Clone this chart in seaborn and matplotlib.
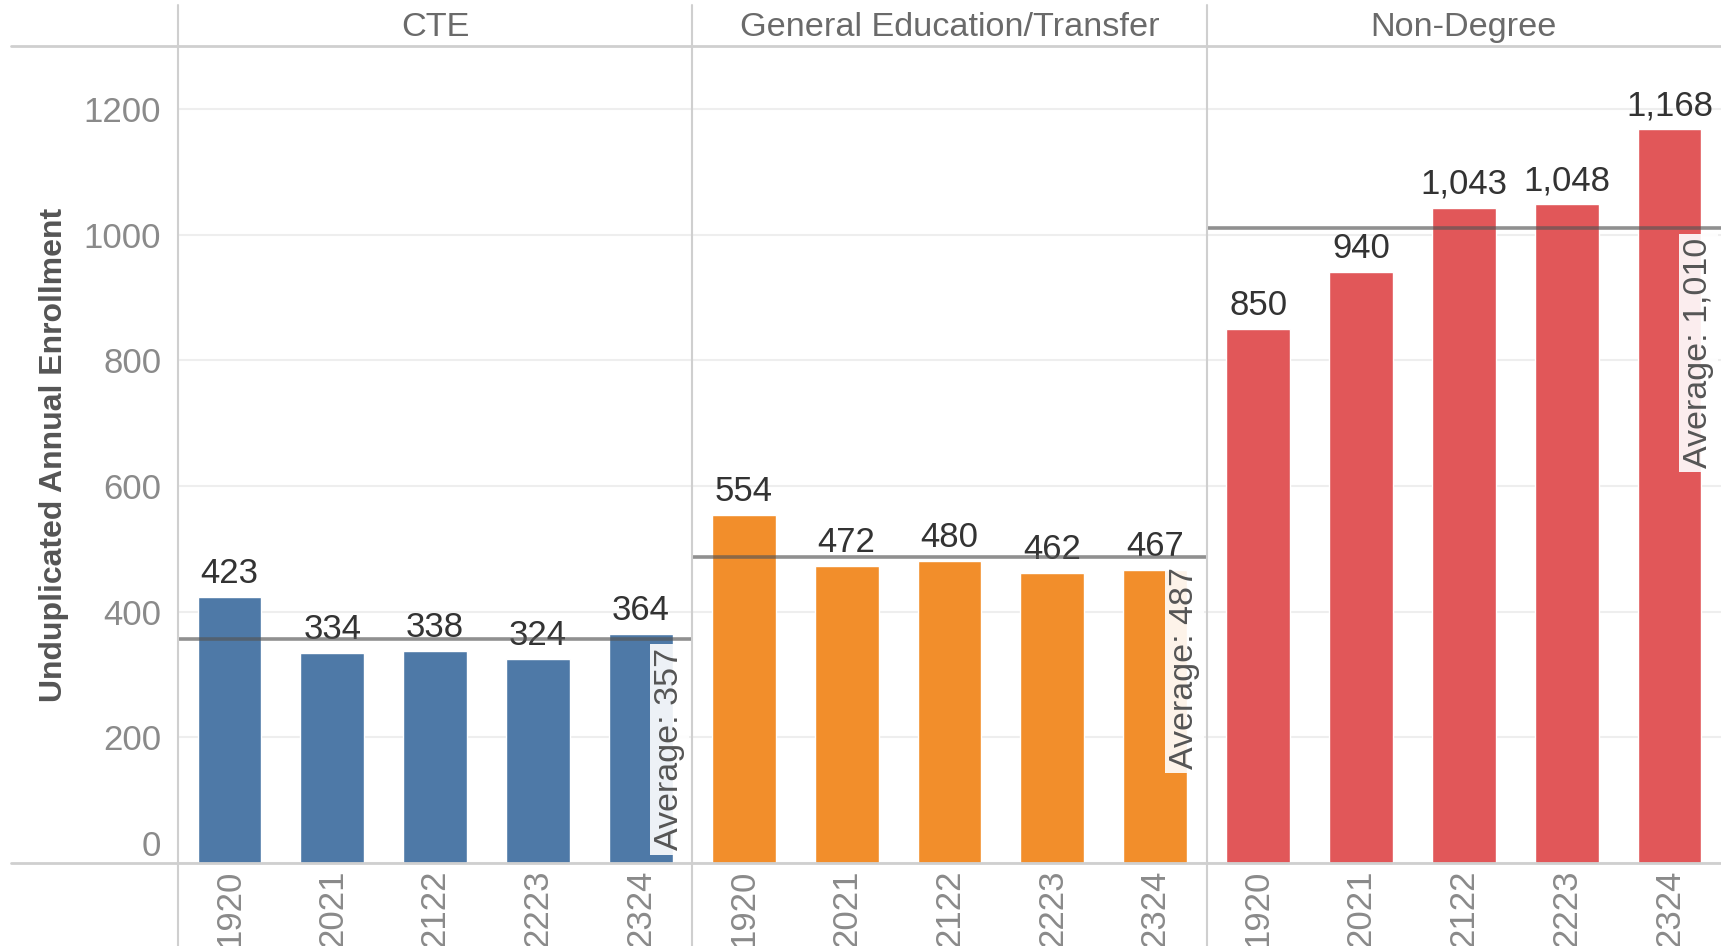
import numpy as np
import pandas as pd
import matplotlib
matplotlib.use("Agg")
import matplotlib.pyplot as plt
from matplotlib.lines import Line2D
from matplotlib.ticker import FixedLocator
import seaborn as sns

# ---------------- data ----------------
programs = ["CTE", "General Education/Transfer", "Non-Degree"]
years = ["1920", "2021", "2122", "2223", "2324"]
cte = [423, 334, 338, 324, 364]
gen_ed = [554, 472, 480, 462, 467]
non_degree = [850, 940, 1043, 1048, 1168]
colors = ["#4E79A7", "#F28E2B", "#E15759"]
y_ticks = [0, 200, 400, 600, 800, 1000, 1200]
y_label = "Unduplicated Annual Enrollment"

series = [cte, gen_ed, non_degree]
df = pd.DataFrame({
    "program": np.repeat(programs, len(years)),
    "year": years * len(programs),
    "enroll": np.concatenate(series),
})

# ---------------- style ----------------
sns.set_style("white")
plt.rcParams["font.family"] = ["Liberation Sans", "DejaVu Sans"]

W, H = 1721, 946
fig = plt.figure(figsize=(W / 100, H / 100), dpi=100)

left_px, top_px, bottom_px = 178, 46, 863
panel_w = (W - left_px) / 3
GRID = "#eeeeee"
SEP = "#cfcfcf"
TICKC = "#8a8a8a"

axes = []
for i, prog in enumerate(programs):
    ax = fig.add_axes([
        (left_px + i * panel_w) / W,
        (H - bottom_px) / H,
        panel_w / W,
        (bottom_px - top_px) / H,
    ])
    axes.append(ax)
    sub = df[df["program"] == prog]
    sns.barplot(data=sub, x="year", y="enroll", order=years, color=colors[i],
                saturation=1, width=0.62, errorbar=None, ax=ax, zorder=2)
    ax.set_ylim(0, 1300)
    ax.set_xlim(-0.5, len(years) - 0.5)
    ax.set_xlabel("")
    ax.set_ylabel("")
    for s in ax.spines.values():
        s.set_visible(False)
    ax.set_axisbelow(True)
    ax.yaxis.grid(True, color=GRID, lw=1.5)
    ax.xaxis.grid(False)
    ax.set_yticks(y_ticks)

    # x ticks
    ax.tick_params(axis="x", which="major", length=0, pad=5, labelsize=25,
                   labelcolor=TICKC, rotation=90)
    ax.xaxis.set_minor_locator(FixedLocator(np.arange(0.5, len(years) - 0.5, 1)))
    ax.tick_params(axis="x", which="minor", length=4, width=1, color="#e2e2e2")
    for lab in ax.get_xticklabels():
        lab.set_va("top")

    if i == 0:
        ax.tick_params(axis="y", length=9, width=1.5, color=GRID, pad=3,
                       labelsize=25, labelcolor=TICKC)
        ax.set_yticklabels([str(t) for t in y_ticks])
        ax.yaxis.get_major_ticks()[0].label1.set_va("bottom")
        ax.set_ylabel(y_label, fontsize=23, fontweight="bold", color="#555555",
                      labelpad=11)
    else:
        ax.tick_params(axis="y", length=0, labelleft=False)

    # value labels
    vals = series[i]
    ax.bar_label(ax.containers[0], labels=[f"{v:,}" for v in vals],
                 padding=5, fontsize=25, color="#333333")

    # average reference line
    avg = int(round(np.mean(vals)))
    ax.axhline(avg, color="#555555", alpha=0.65, lw=2.6, zorder=3)
    ax.annotate(f"Average: {avg:,}", xy=(1, avg), xycoords=ax.get_yaxis_transform(),
                xytext=(-5, -7), textcoords="offset points", rotation=90,
                ha="right", va="top", fontsize=24.5, color="#555555", zorder=4,
                bbox=dict(boxstyle="square,pad=0.12", fc="white", ec="none",
                          alpha=0.9))

    # panel header
    ax.annotate(prog, xy=(0.5, 1), xycoords="axes fraction", xytext=(0, 13),
                textcoords="offset points", ha="center", va="center",
                fontsize=24.7, color="#6a6a6a")

# separators (figure decoration)
for i in range(3):
    x = (left_px + i * panel_w) / W
    fig.add_artist(Line2D([x, x], [0, 1 - 5 / H], transform=fig.transFigure,
                          color=SEP, lw=1.5))
for y in (top_px, bottom_px):
    fy = 1 - y / H
    fig.add_artist(Line2D([11 / W, 1], [fy, fy], transform=fig.transFigure,
                          color=SEP, lw=2))

fig.savefig("out.png", dpi=100, facecolor="white")
